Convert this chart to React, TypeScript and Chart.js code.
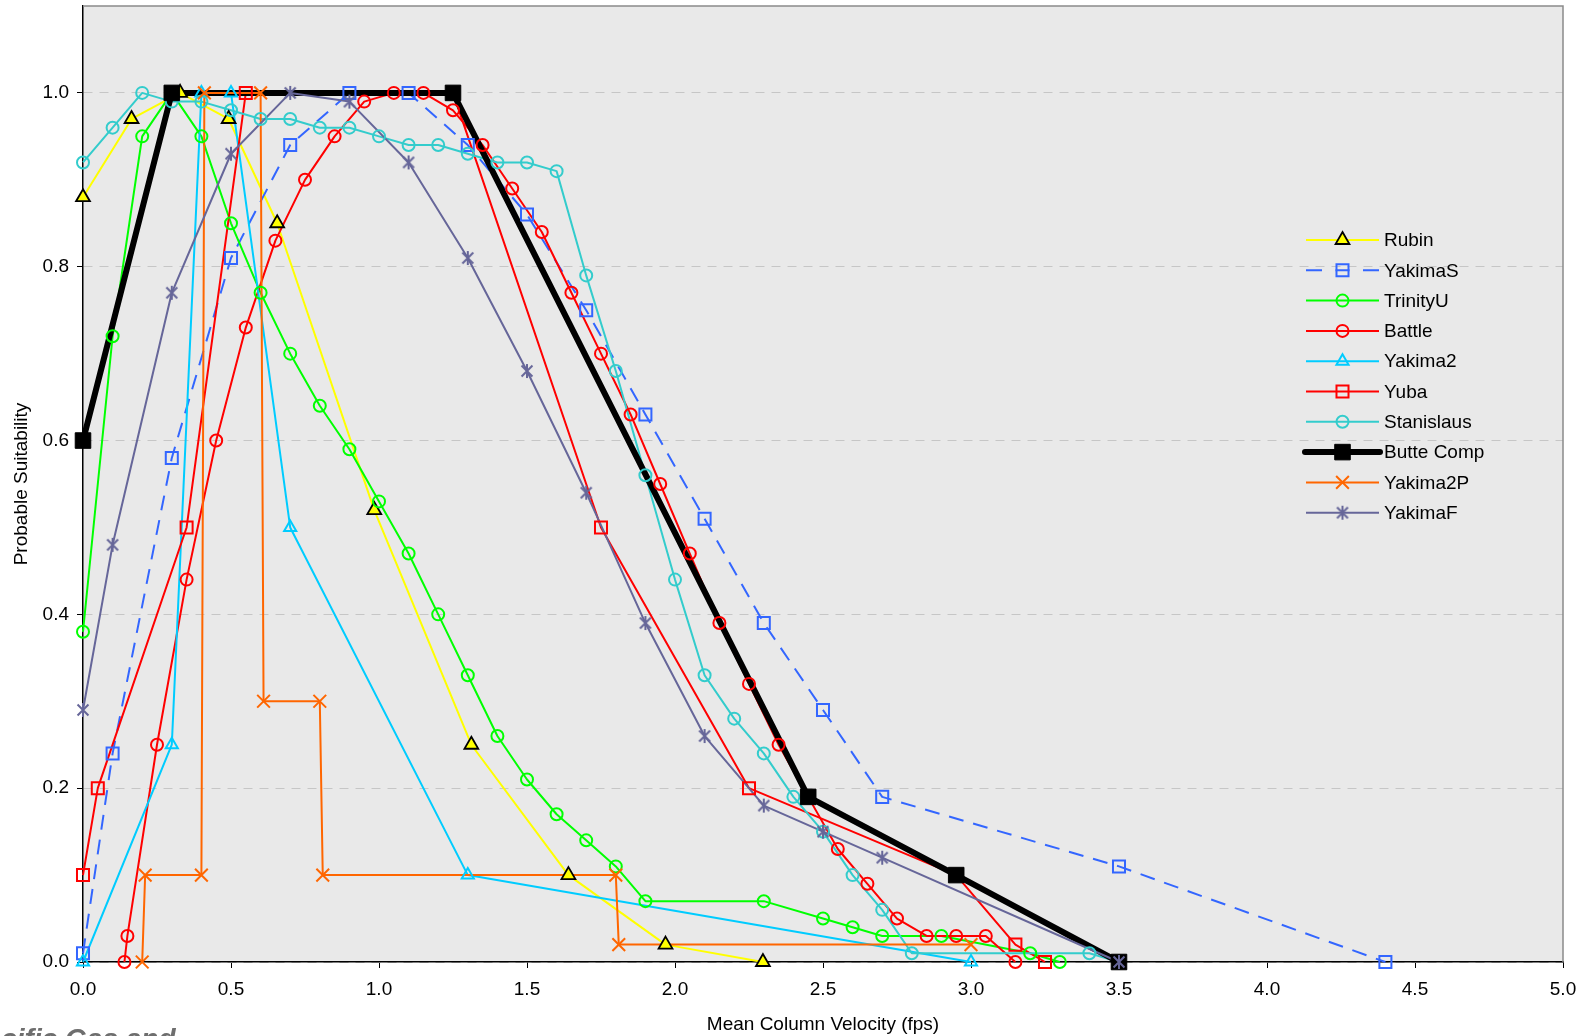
import React, { useEffect, useRef } from 'react';
import { Chart, registerables } from 'chart.js';

Chart.register(...registerables);
Chart.defaults.font.family = "'Liberation Sans', Arial, Helvetica, sans-serif";

// Mean column velocity (fps) and probable suitability for each curve
const rubinVelocity = [0, 0.164, 0.328, 0.492, 0.656, 0.984, 1.312, 1.64, 1.968, 2.297];
const rubinSuitability = [0.88, 0.97, 1.0, 0.97, 0.85, 0.52, 0.25, 0.1, 0.02, 0.0];

const yakimaSVelocity = [0, 0.1, 0.3, 0.5, 0.7, 0.9, 1.1, 1.3, 1.5, 1.7, 1.9, 2.1, 2.3, 2.5, 2.7, 3.5, 4.4];
const yakimaSSuitability = [0.01, 0.24, 0.58, 0.81, 0.94, 1.0, 1.0, 0.94, 0.86, 0.75, 0.63, 0.51, 0.39, 0.29, 0.19, 0.11, 0.0];

const trinityUVelocity = [0, 0.1, 0.2, 0.3, 0.4, 0.5, 0.6, 0.7, 0.8, 0.9, 1.0, 1.1, 1.2, 1.3, 1.4, 1.5, 1.6, 1.7, 1.8, 1.9, 2.3, 2.5, 2.6, 2.7, 2.9, 3.2, 3.3];
const trinityUSuitability = [0.38, 0.72, 0.95, 1.0, 0.95, 0.85, 0.77, 0.7, 0.64, 0.59, 0.53, 0.47, 0.4, 0.33, 0.26, 0.21, 0.17, 0.14, 0.11, 0.07, 0.07, 0.05, 0.04, 0.03, 0.03, 0.01, 0.0];

const battleVelocity = [0.14, 0.15, 0.25, 0.35, 0.45, 0.55, 0.65, 0.75, 0.85, 0.95, 1.05, 1.15, 1.25, 1.35, 1.45, 1.55, 1.65, 1.75, 1.85, 1.95, 2.05, 2.15, 2.25, 2.35, 2.45, 2.55, 2.65, 2.75, 2.85, 2.95, 3.05, 3.15];
const battleSuitability = [0.0, 0.03, 0.25, 0.44, 0.6, 0.73, 0.83, 0.9, 0.95, 0.99, 1.0, 1.0, 0.98, 0.94, 0.89, 0.84, 0.77, 0.7, 0.63, 0.55, 0.47, 0.39, 0.32, 0.25, 0.19, 0.13, 0.09, 0.05, 0.03, 0.03, 0.03, 0.0];

const yakima2Velocity = [0, 0.3, 0.4, 0.5, 0.7, 1.3, 3.0];
const yakima2Suitability = [0.0, 0.25, 1.0, 1.0, 0.5, 0.1, 0.0];

const yubaVelocity = [0, 0.05, 0.35, 0.55, 1.25, 1.75, 2.25, 2.95, 3.15, 3.25];
const yubaSuitability = [0.1, 0.2, 0.5, 1.0, 1.0, 0.5, 0.2, 0.1, 0.02, 0.0];

const stanislausVelocity = [0, 0.1, 0.2, 0.3, 0.4, 0.5, 0.6, 0.7, 0.8, 0.9, 1.0, 1.1, 1.2, 1.3, 1.4, 1.5, 1.6, 1.7, 1.8, 1.9, 2.0, 2.1, 2.2, 2.3, 2.4, 2.5, 2.6, 2.7, 2.8, 3.4, 3.5];
const stanislausSuitability = [0.92, 0.96, 1.0, 0.99, 0.99, 0.98, 0.97, 0.97, 0.96, 0.96, 0.95, 0.94, 0.94, 0.93, 0.92, 0.92, 0.91, 0.79, 0.68, 0.56, 0.44, 0.33, 0.28, 0.24, 0.19, 0.15, 0.1, 0.06, 0.01, 0.01, 0.0];

const butteCompVelocity = [0, 0.3, 1.25, 2.45, 2.95, 3.5];
const butteCompSuitability = [0.6, 1.0, 1.0, 0.19, 0.1, 0.0];

const yakima2PVelocity = [0.2, 0.21, 0.4, 0.41, 0.6, 0.61, 0.8, 0.81, 1.8, 1.81, 3.0];
const yakima2PSuitability = [0.0, 0.1, 0.1, 1.0, 1.0, 0.3, 0.3, 0.1, 0.1, 0.02, 0.02];

const yakimaFVelocity = [0, 0.1, 0.3, 0.5, 0.7, 0.9, 1.1, 1.3, 1.5, 1.7, 1.9, 2.1, 2.3, 2.5, 2.7, 3.5];
const yakimaFSuitability = [0.29, 0.48, 0.77, 0.93, 1.0, 0.99, 0.92, 0.81, 0.68, 0.54, 0.39, 0.26, 0.18, 0.15, 0.12, 0.0];

// Axis ticks
const X_TICKS = [0, 0.5, 1.0, 1.5, 2.0, 2.5, 3.0, 3.5, 4.0, 4.5, 5.0];
const Y_TICKS = [0, 0.2, 0.4, 0.6, 0.8, 1.0];

const X_TITLE = 'Mean Column Velocity (fps)';
const Y_TITLE = 'Probable Suitability';

type Marker = 'triangle' | 'rect' | 'circle' | 'crossRot' | 'star';

interface Curve {
  label: string;
  x: number[];
  y: number[];
  color: string;
  width: number;
  dash?: number[];
  marker: Marker;
  radius: number;
  fill: string;
  edge: string;
  edgeWidth: number;
}

const NONE = 'rgba(0,0,0,0)';

const CURVES: Curve[] = [
  { label: 'Rubin', x: rubinVelocity, y: rubinSuitability, color: '#FFFF00', width: 2, marker: 'triangle', radius: 8, fill: '#FFFF00', edge: '#000000', edgeWidth: 1.8 },
  { label: 'YakimaS', x: yakimaSVelocity, y: yakimaSSuitability, color: '#3366FF', width: 2, dash: [15, 10], marker: 'rect', radius: 8.5, fill: NONE, edge: '#3366FF', edgeWidth: 2 },
  { label: 'TrinityU', x: trinityUVelocity, y: trinityUSuitability, color: '#00FF00', width: 2, marker: 'circle', radius: 6, fill: NONE, edge: '#00FF00', edgeWidth: 2 },
  { label: 'Battle', x: battleVelocity, y: battleSuitability, color: '#FF0000', width: 2, marker: 'circle', radius: 6, fill: NONE, edge: '#FF0000', edgeWidth: 2 },
  { label: 'Yakima2', x: yakima2Velocity, y: yakima2Suitability, color: '#00CCFF', width: 2, marker: 'triangle', radius: 7, fill: NONE, edge: '#00CCFF', edgeWidth: 2 },
  { label: 'Yuba', x: yubaVelocity, y: yubaSuitability, color: '#FF0000', width: 2, marker: 'rect', radius: 8.5, fill: NONE, edge: '#FF0000', edgeWidth: 2 },
  { label: 'Stanislaus', x: stanislausVelocity, y: stanislausSuitability, color: '#33CCCC', width: 2, marker: 'circle', radius: 6, fill: NONE, edge: '#33CCCC', edgeWidth: 2 },
  { label: 'Butte Comp', x: butteCompVelocity, y: butteCompSuitability, color: '#000000', width: 6, marker: 'rect', radius: 11, fill: '#000000', edge: '#000000', edgeWidth: 1 },
  { label: 'Yakima2P', x: yakima2PVelocity, y: yakima2PSuitability, color: '#FF6600', width: 2, marker: 'crossRot', radius: 9, fill: NONE, edge: '#FF6600', edgeWidth: 2 },
  { label: 'YakimaF', x: yakimaFVelocity, y: yakimaFSuitability, color: '#666699', width: 2, marker: 'star', radius: 7, fill: NONE, edge: '#666699', edgeWidth: 2 },
];

const PLOT_BG = '#e9e9e9';
const GRID_COLOR = '#c6c6c6';

// Asterisk-like marker: one vertical stroke plus a diagonal cross
function makeStar(color: string, r: number, lw: number): HTMLCanvasElement {
  const c = document.createElement('canvas');
  const s = Math.ceil(2 * r + lw + 2);
  c.width = s;
  c.height = s;
  const g = c.getContext('2d')!;
  const m = s / 2;
  const d = r * 0.78;
  g.strokeStyle = color;
  g.lineWidth = lw;
  g.beginPath();
  g.moveTo(m, m - r);
  g.lineTo(m, m + r);
  g.moveTo(m - d, m - d);
  g.lineTo(m + d, m + d);
  g.moveTo(m + d, m - d);
  g.lineTo(m - d, m + d);
  g.stroke();
  return c;
}

function drawKeyMarker(ctx: CanvasRenderingContext2D, c: Curve, x: number, y: number, star: HTMLCanvasElement | null) {
  ctx.save();
  ctx.setLineDash([]);
  ctx.lineWidth = c.edgeWidth;
  ctx.strokeStyle = c.edge;
  ctx.fillStyle = c.fill;
  const r = c.radius;
  ctx.beginPath();
  if (c.marker === 'star' && star) {
    ctx.drawImage(star, x - star.width / 2, y - star.height / 2);
    ctx.restore();
    return;
  }
  if (c.marker === 'circle') {
    ctx.arc(x, y, r, 0, Math.PI * 2);
  } else if (c.marker === 'rect') {
    const s = r * Math.SQRT1_2;
    ctx.rect(x - s, y - s, 2 * s, 2 * s);
  } else if (c.marker === 'triangle') {
    let a = 0;
    ctx.moveTo(x + Math.sin(a) * r, y - Math.cos(a) * r);
    a += (2 * Math.PI) / 3;
    ctx.lineTo(x + Math.sin(a) * r, y - Math.cos(a) * r);
    a += (2 * Math.PI) / 3;
    ctx.lineTo(x + Math.sin(a) * r, y - Math.cos(a) * r);
    ctx.closePath();
  } else if (c.marker === 'crossRot') {
    const d = r * Math.SQRT1_2;
    ctx.moveTo(x - d, y - d);
    ctx.lineTo(x + d, y + d);
    ctx.moveTo(x + d, y - d);
    ctx.lineTo(x - d, y + d);
    ctx.stroke();
    ctx.restore();
    return;
  }
  ctx.fill();
  ctx.stroke();
  ctx.restore();
}

export default function App() {
  const canvasRef = useRef<HTMLCanvasElement>(null);

  useEffect(() => {
    const canvas = canvasRef.current;
    if (!canvas) return;
    const star = makeStar('#666699', 7, 2);

    const n = CURVES.length;
    // all connecting lines first, then every series' markers on top of them
    const lineSets = CURVES.map((c, i) => ({
      label: c.label,
      data: c.x.map((v, k) => ({ x: v, y: c.y[k] })),
      showLine: true,
      borderColor: c.color,
      borderWidth: c.width,
      borderDash: c.dash || [],
      borderCapStyle: c.width > 4 ? 'round' : 'butt',
      borderJoinStyle: 'round',
      tension: 0,
      pointRadius: 0,
      clip: false,
      order: 100 + (n - i),
    }));
    const pointSets = CURVES.map((c, i) => ({
      label: c.label + ' markers',
      data: c.x.map((v, k) => ({ x: v, y: c.y[k] })),
      showLine: false,
      pointStyle: c.marker === 'star' ? star : c.marker,
      pointRadius: c.radius,
      pointHoverRadius: c.radius,
      pointBackgroundColor: c.fill,
      pointBorderColor: c.edge,
      pointBorderWidth: c.edgeWidth,
      clip: false,
      order: n - i,
    }));

    const plotFrame = {
      id: 'plotFrame',
      beforeDraw(chart: any) {
        const { ctx, chartArea: a } = chart;
        ctx.save();
        ctx.fillStyle = '#ffffff';
        ctx.fillRect(0, 0, chart.width, chart.height);
        ctx.fillStyle = PLOT_BG;
        ctx.fillRect(a.left, a.top, a.right - a.left, a.bottom - a.top);
        ctx.restore();
      },
      afterDatasetsDraw(chart: any) {
        const { ctx, chartArea: a } = chart;
        ctx.save();
        ctx.strokeStyle = '#8a8a8a';
        ctx.lineWidth = 1.5;
        ctx.beginPath();
        ctx.moveTo(a.left, a.top);
        ctx.lineTo(a.right, a.top);
        ctx.lineTo(a.right, a.bottom);
        ctx.stroke();
        ctx.restore();
      },
    };

    const seriesKey = {
      id: 'seriesKey',
      afterDatasetsDraw(chart: any) {
        const ctx: CanvasRenderingContext2D = chart.ctx;
        const x0 = 1306;
        const x1 = 1379;
        const xm = (x0 + x1) / 2;
        const top = 240;
        const step = 30.3;
        CURVES.forEach((c, i) => {
          const y = top + i * step;
          ctx.save();
          ctx.strokeStyle = c.color;
          ctx.lineWidth = c.width;
          ctx.lineCap = c.width > 4 ? 'round' : 'butt';
          if (c.dash) {
            ctx.beginPath();
            ctx.moveTo(x0, y);
            ctx.lineTo(x0 + 16, y);
            ctx.moveTo(x1 - 16, y);
            ctx.lineTo(x1, y);
            ctx.moveTo(xm - 7, y);
            ctx.lineTo(xm + 7, y);
            ctx.stroke();
          } else {
            ctx.beginPath();
            ctx.moveTo(c.width > 4 ? x0 - 1 : x0, y);
            ctx.lineTo(c.width > 4 ? x1 + 1 : x1, y);
            ctx.stroke();
          }
          ctx.restore();
          drawKeyMarker(ctx, c, xm, y, star);
          ctx.save();
          ctx.fillStyle = '#000000';
          ctx.font = "19px 'Liberation Sans', Arial, sans-serif";
          ctx.textAlign = 'left';
          ctx.textBaseline = 'middle';
          ctx.fillText(c.label, 1384, y + 1);
          ctx.restore();
        });
      },
    };

    const chart = new Chart(canvas, {
      type: 'scatter',
      data: { datasets: [...lineSets, ...pointSets] as any },
      options: {
        responsive: false,
        devicePixelRatio: 1,
        animation: false,
        events: [],
        layout: { autoPadding: false, padding: { left: 0, right: 26, top: 6, bottom: 0 } },
        plugins: {
          legend: { display: false },
          tooltip: { enabled: false },
        },
        scales: {
          x: {
            type: 'linear',
            min: 0,
            max: 5,
            afterFit(scale: any) {
              scale.height = 74;
            },
            afterBuildTicks(scale: any) {
              scale.ticks = X_TICKS.map((v) => ({ value: v }));
            },
            ticks: {
              autoSkip: false,
              maxRotation: 0,
              padding: 10,
              color: '#000000',
              font: { size: 19 },
              callback: (v: any) => Number(v).toFixed(1),
            },
            grid: {
              drawOnChartArea: false,
              drawTicks: true,
              tickLength: 6,
              tickColor: '#000000',
              tickWidth: 1,
            },
            border: { display: true, color: '#000000', width: 1.5 },
            title: {
              display: true,
              text: X_TITLE,
              color: '#000000',
              font: { size: 19 },
              padding: { top: 0, bottom: 0 },
            },
          },
          y: {
            type: 'linear',
            min: 0,
            max: 1.1,
            afterFit(scale: any) {
              scale.width = 83;
              scale.paddingTop = 0;
              scale.paddingBottom = 0;
            },
            afterBuildTicks(scale: any) {
              scale.ticks = Y_TICKS.map((v) => ({ value: v }));
            },
            ticks: {
              padding: 8,
              color: '#000000',
              font: { size: 19 },
              callback: (v: any) => Number(v).toFixed(1),
            },
            grid: {
              color: GRID_COLOR,
              lineWidth: 1,
              drawTicks: true,
              tickLength: 6,
              tickColor: '#000000',
              tickWidth: 1,
            },
            border: { display: true, color: '#000000', width: 1.5, dash: [9, 7] },
            title: {
              display: true,
              text: Y_TITLE,
              color: '#000000',
              font: { size: 19 },
              padding: { top: 10, bottom: 0 },
            },
          },
        },
      } as any,
      plugins: [plotFrame, seriesKey],
    });

    return () => chart.destroy();
  }, []);

  return (
    <div
      style={{
        position: 'fixed',
        left: 0,
        top: 0,
        width: 1589,
        height: 1036,
        overflow: 'hidden',
        background: '#ffffff',
      }}
    >
      <canvas
        ref={canvasRef}
        width={1589}
        height={1036}
        style={{ position: 'absolute', left: 0, top: 0, width: 1589, height: 1036 }}
      />
      <div
        style={{
          position: 'absolute',
          left: -33,
          top: 1025,
          font: "italic bold 28px 'Liberation Sans', Arial, sans-serif",
          lineHeight: '28px',
          color: '#6e6e6e',
          whiteSpace: 'nowrap',
        }}
      >
        Pacific Gas and
      </div>
    </div>
  );
}
